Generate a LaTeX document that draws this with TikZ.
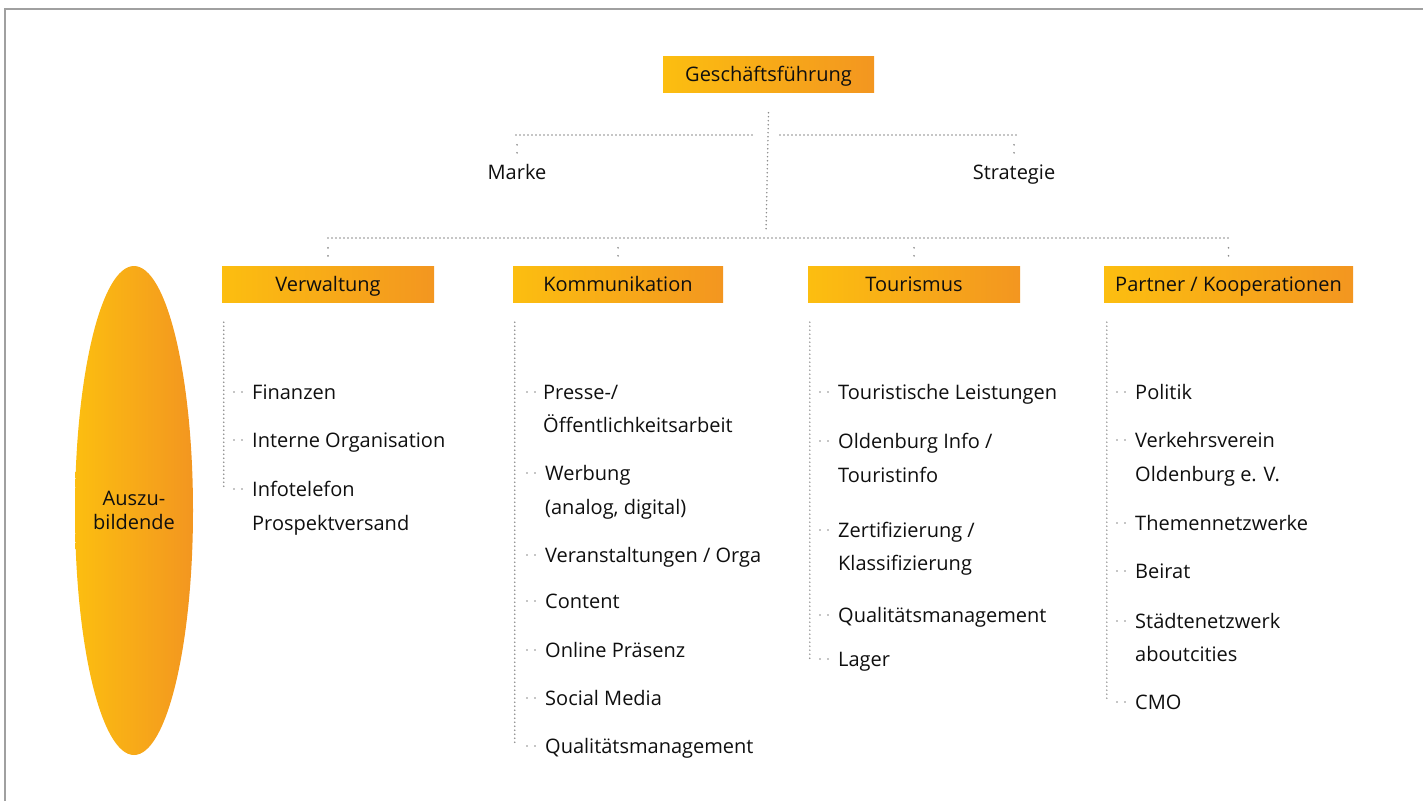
\documentclass[tikz,border=0pt]{standalone}
\usepackage{fontspec}
\setmainfont{Open Sans}
\usetikzlibrary{shapes.geometric,calc}

\definecolor{gold}{RGB}{252,190,16}
\definecolor{amber}{RGB}{243,150,32}
\definecolor{ink}{RGB}{15,15,15}
\definecolor{framegray}{RGB}{160,160,160}
\definecolor{dotgray}{RGB}{140,140,140}

\tikzset{
  txt/.style={font=\fontsize{20}{24}\selectfont, text=ink},
  unitbox/.style={txt, left color=gold, right color=amber, draw=none,
    minimum height=36pt, inner sep=0pt, text height=14pt, text depth=0pt},
  caption/.style={txt, inner sep=0pt, text height=14pt, text depth=0pt},
  item/.style={caption, anchor=west},
  link/.style={draw=dotgray, line width=1.7pt, dash pattern=on 0pt off 4pt, line cap=round},
  twig/.style={draw=dotgray, line width=1.9pt, dash pattern=on 0pt off 8pt, line cap=round},
}

\begin{document}
\begin{tikzpicture}[x=1pt,y=-1pt]
\useasboundingbox (0,0) rectangle (1423,801);

% page frame
\draw[framegray, line width=1.4pt] (5,801) -- (5,9) -- (1423,9);

% management and the two staff positions
\node[unitbox, minimum width=211pt] (gf) at (768.5,74.5) {Geschäftsführung};
\node[caption] (marke) at (517,172) {Marke};
\node[caption] (strat) at (1014,172) {Strategie};

% departments
\node[unitbox, minimum width=212pt] (verw) at (328,284) {Verwaltung};
\node[unitbox, minimum width=210pt] (komm) at (618,284) {Kommunikation};
\node[unitbox, minimum width=212pt] (tour) at (914,284) {Tourismus};
\node[unitbox, minimum width=249pt] (part) at (1228.5,284) {Partner / Kooperationen};

% trainees
\node[ellipse, txt, left color=gold, right color=amber, draw=none, inner sep=0pt,
  minimum width=118pt, minimum height=489pt, align=center] (azubi) at (134,510.5)
  {Auszu-\\bildende};

% hierarchy lines
\coordinate (hub) at (766,238);
\coordinate (barL) at (516,135);
\coordinate (barR) at (1016,135);
\draw[link] ([yshift=-20pt]gf.south) -- ([yshift=6pt]hub);
\draw[link] (barL) -- (752,135);
\draw[link] (780,135) -- (barR);
\draw[twig] ([yshift=20pt]marke.north) -- ([yshift=11pt]marke.north);
\draw[twig] ([yshift=20pt]strat.north) -- ([yshift=11pt]strat.north);
\draw[link] (verw.north |- hub) -- (part.north |- hub);
\foreach \d in {verw,komm,tour,part}
  \draw[twig] ([yshift=18pt]\d.north) -- ([yshift=9pt]\d.north);

% Verwaltung
\node[item] (fin)   at (252,392) {Finanzen};
\node[item] (intorg) at (252,440) {Interne Organisation};
\node[item] (info)  at (252,489) {Infotelefon};
\node[item] (prosp) at (252,523) {Prospektversand};

% Kommunikation
\node[item] (presse) at (543,392) {Presse-/};
\node[item] (oeff)   at (543,425) {Öffentlichkeitsarbeit};
\node[item] (werb)   at (545,473) {Werbung};
\node[item] (analog) at (545,507) {(analog, digital)};
\node[item] (veran)  at (545,555) {Veranstaltungen / Orga};
\node[item] (cont)   at (545,601) {Content};
\node[item] (online) at (545,650) {Online Präsenz};
\node[item] (social) at (545,698) {Social Media};
\node[item] (qmk)    at (545,746) {Qualitätsmanagement};

% Tourismus
\node[item] (tl)    at (838,392) {Touristische Leistungen};
\node[item] (oi)    at (838,441) {Oldenburg Info /};
\node[item] (ti)    at (838,475) {Touristinfo};
\node[item] (zert)  at (838,530) {Zertifizierung /};
\node[item] (klass) at (838,563) {Klassifizierung};
\node[item] (qmt)   at (838,615) {Qualitätsmanagement};
\node[item] (lager) at (838,659) {Lager};

% Partner / Kooperationen
\node[item] (pol)    at (1135,392) {Politik};
\node[item] (vv)     at (1135,440) {Verkehrsverein};
\node[item] (vvol)   at (1135,474) {Oldenburg e. V.};
\node[item] (themen) at (1135,523) {Themennetzwerke};
\node[item] (beirat) at (1135,571) {Beirat};
\node[item] (stadt)  at (1135,621) {Städtenetzwerk};
\node[item] (about)  at (1135,654) {aboutcities};
\node[item] (cmo)    at (1135,702) {CMO};

% column spines
\draw[link] ([shift={(2,20)}]verw.south west) coordinate (sv) -- (sv |- info.west);
\draw[link] ([shift={(2,20)}]komm.south west) coordinate (sk) -- (sk |- qmk.west);
\draw[link] ([shift={(2,20)}]tour.south west) coordinate (st) -- (st |- lager.west);
\draw[link] ([shift={(3,20)}]part.south west) coordinate (sp) -- (sp |- cmo.west);

% branches to the tasks
\foreach \t in {fin,intorg,info,werb,veran,cont,online,social,qmk,
                tl,oi,zert,qmt,lager,pol,vv,themen,beirat,stadt,cmo}
  \draw[twig] ([xshift=-18pt]\t.west) -- ([xshift=-9pt]\t.west);
\draw[twig] ([xshift=-16pt]presse.west) -- ([xshift=-7pt]presse.west);
\end{tikzpicture}
\end{document}
